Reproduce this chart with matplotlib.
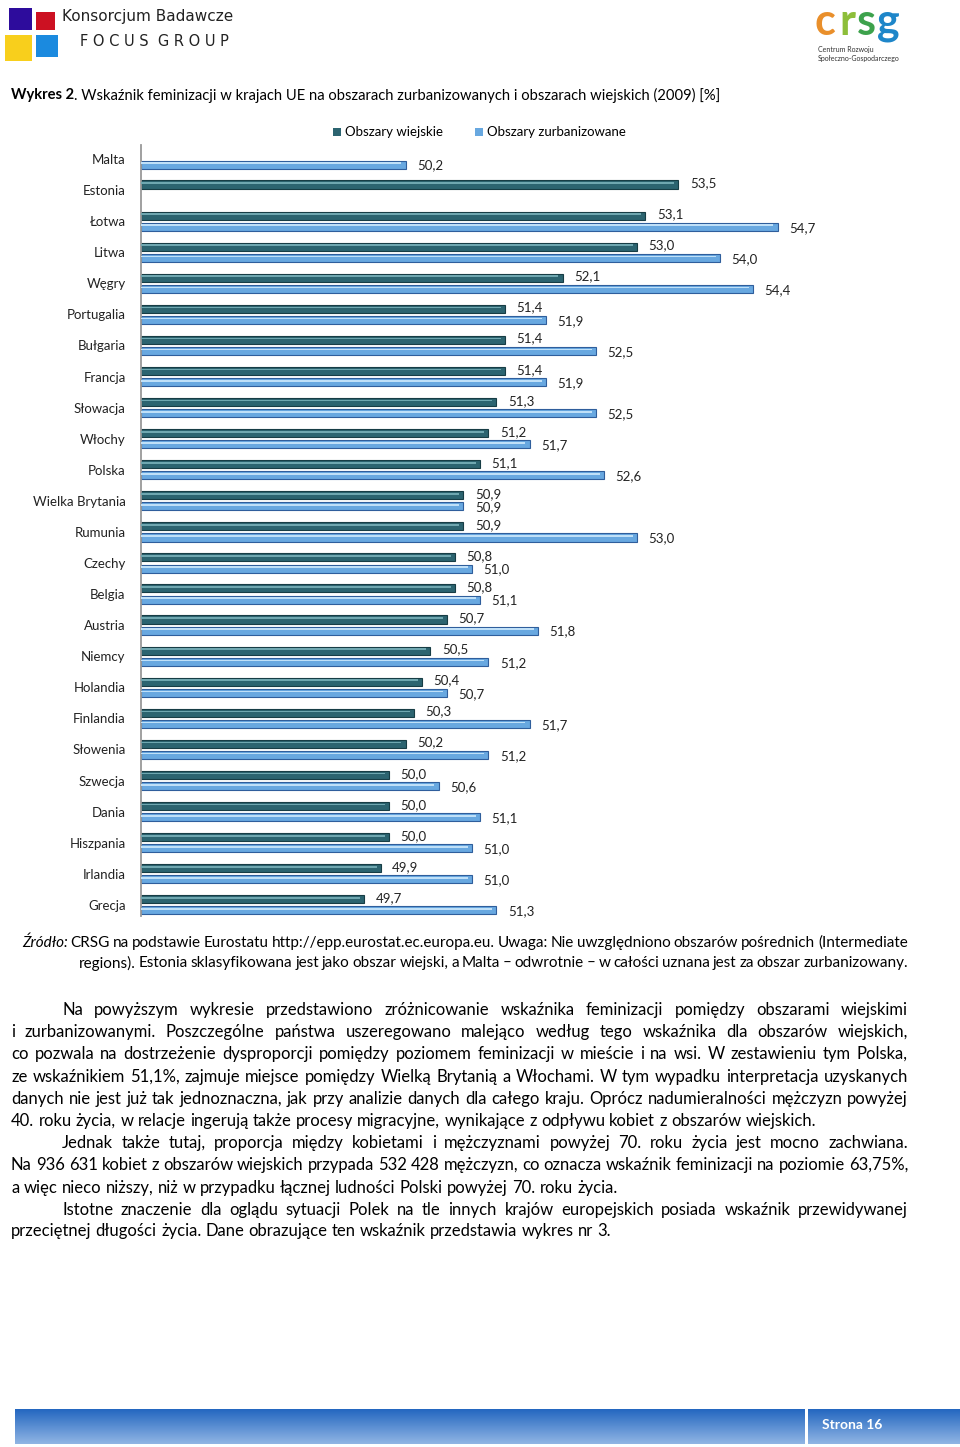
import numpy as np
import matplotlib.pyplot as plt
from matplotlib.patches import Rectangle
from matplotlib.colors import LinearSegmentedColormap

FONT = "Lato"
plt.rcParams["font.family"] = [FONT, "DejaVu Sans"]

# data
countries = ["Malta", "Estonia", "Łotwa", "Litwa", "Węgry", "Portugalia", "Bułgaria",
             "Francja", "Słowacja", "Włochy", "Polska", "Wielka Brytania", "Rumunia",
             "Czechy", "Belgia", "Austria", "Niemcy", "Holandia", "Finlandia",
             "Słowenia", "Szwecja", "Dania", "Hiszpania", "Irlandia", "Grecja"]
rural = [np.nan, 53.5, 53.1, 53.0, 52.1, 51.4, 51.4, 51.4, 51.3, 51.2, 51.1, 50.9, 50.9,
         50.8, 50.8, 50.7, 50.5, 50.4, 50.3, 50.2, 50.0, 50.0, 50.0, 49.9, 49.7]
urban = [50.2, np.nan, 54.7, 54.0, 54.4, 51.9, 52.5, 51.9, 52.5, 51.7, 52.6, 50.9, 53.0,
         51.0, 51.1, 51.8, 51.2, 50.7, 51.7, 51.2, 50.6, 51.1, 51.0, 51.0, 51.3]
series_names = ["Obszary wiejskie", "Obszary zurbanizowane"]

title_bold = "Wykres 2"
title_rest = ". Wskaźnik feminizacji w krajach UE na obszarach zurbanizowanych i obszarach wiejskich (2009) [%]"

source_lines = [
    "CRSG na podstawie Eurostatu http://epp.eurostat.ec.europa.eu. Uwaga: Nie uwzględniono obszarów pośrednich (Intermediate",
    "regions). Estonia sklasyfikowana jest jako obszar wiejski, a Malta – odwrotnie – w całości uznana jest za obszar zurbanizowany.",
]

# (text, indented, justified)
body_lines = [
    ("Na powyższym wykresie przedstawiono zróżnicowanie wskaźnika feminizacji pomiędzy obszarami wiejskimi", True, True),
    ("i zurbanizowanymi. Poszczególne państwa uszeregowano malejąco według tego wskaźnika dla obszarów wiejskich,", False, True),
    ("co pozwala na dostrzeżenie dysproporcji pomiędzy poziomem feminizacji w mieście i na wsi. W zestawieniu tym Polska,", False, True),
    ("ze wskaźnikiem 51,1%, zajmuje miejsce pomiędzy Wielką Brytanią a Włochami. W tym wypadku interpretacja uzyskanych", False, True),
    ("danych nie jest już tak jednoznaczna, jak przy analizie danych dla całego kraju. Oprócz nadumieralności mężczyzn powyżej", False, True),
    ("40. roku życia, w relacje ingerują także procesy migracyjne, wynikające z odpływu kobiet z obszarów wiejskich.", False, False),
    ("Jednak także tutaj, proporcja między kobietami i mężczyznami powyżej 70. roku życia jest mocno zachwiana.", True, True),
    ("Na 936 631 kobiet z obszarów wiejskich przypada 532 428 mężczyzn, co oznacza wskaźnik feminizacji na poziomie 63,75%,", False, True),
    ("a więc nieco niższy, niż w przypadku łącznej ludności Polski powyżej 70. roku życia.", False, False),
    ("Istotne znaczenie dla oglądu sytuacji Polek na tle innych krajów europejskich posiada wskaźnik przewidywanej", True, True),
    ("przeciętnej długości życia. Dane obrazujące ten wskaźnik przedstawia wykres nr 3.", False, False),
]

W, H = 960, 1447
fig = plt.figure(figsize=(W / 100, H / 100), dpi=100)
renderer = fig.canvas.get_renderer()


def fx(x):
    return x / W


def fy(y):
    return 1 - y / H


def rect(x0, y0, x1, y1, color):
    fig.add_artist(Rectangle((fx(x0), fy(y1)), fx(x1 - x0), (y1 - y0) / H,
                             transform=fig.transFigure, color=color, lw=0))


def width_px(t):
    return t.get_window_extent(renderer).width


def line(words, x0, x1, y, size, justify=True):
    # words: list of (word, style)
    texts = [fig.text(fx(x0), fy(y), w, fontsize=size, style=s, va="center")
             for w, s in words]
    widths = [width_px(t) for t in texts]
    a = fig.text(0, 0, "a a", fontsize=size)
    b = fig.text(0, 0, "aa", fontsize=size)
    space = width_px(a) - width_px(b)
    a.remove()
    b.remove()
    if justify and len(words) > 1:
        gap = (x1 - x0 - sum(widths)) / (len(words) - 1)
    else:
        gap = space
    x = x0
    for t, w in zip(texts, widths):
        t.set_x(fx(x))
        x += w + gap


# ---- header logos
rect(9, 8, 32, 30, "#2D0C9C")
rect(36, 12, 55, 30, "#CC1122")
rect(5, 35, 32, 61, "#F8CF1C")
rect(36, 35, 58, 57, "#1B8ADF")
fig.text(fx(62), fy(17), "Konsorcjum Badawcze", fontsize=11, va="center",
         family="DejaVu Sans", color="#222222")
fig.text(fx(80), fy(42), "F O C U S  G R O U P", fontsize=10.5, va="center",
         family="DejaVu Sans", color="#222222")

for ch, x, c in [("c", 815, "#E98F2B"), ("r", 839, "#8DBE3A"), ("s", 857, "#3DA24C"), ("g", 877, "#1E86C9")]:
    fig.text(fx(x), fy(35), ch, fontsize=31, fontweight="bold", color=c, va="baseline")
fig.text(fx(818), fy(49.5), "Centrum Rozwoju", fontsize=5, va="center", color="#333333")
fig.text(fx(818), fy(59), "Społeczno-Gospodarczego", fontsize=5, va="center", color="#333333")

# ---- title
tb = fig.text(fx(11), fy(95), title_bold, fontsize=10.6, fontweight="bold", va="center")
fig.text(fx(11) + fx(width_px(tb)), fy(95), title_rest, fontsize=10.6, va="center")

# ---- chart
xmin, xmax = 47, 56
ax = fig.add_axes([fx(141), fy(916), fx(885) - fx(141), (916 - 145) / H])
pos = np.arange(len(countries))
styles = [
    (np.array(rural), -0.18, "#2C6470", "#173D45", "#6FA7B0"),
    (np.array(urban), 0.18, "#68A8E0", "#2F5E9C", "#BFE0F8"),
]
for vals, off, base, edge, hl in styles:
    m = ~np.isnan(vals)
    y = pos[m] + off
    v = vals[m]
    ax.barh(y + 0.1, v - xmin, left=xmin, height=0.1, color="#d5d5d5", lw=0, zorder=1)
    ax.barh(y, v - xmin, left=xmin, height=0.26, color=base, edgecolor=edge, lw=0.8, zorder=2)
    ax.barh(y - 0.045, v - xmin - 0.05, left=xmin, height=0.055, color=hl, lw=0, zorder=3)
    for yy, vv in zip(y, v):
        ax.text(vv + 0.14, yy + (0.03 if off > 0 else -0.04), f"{vv:.1f}".replace(".", ","),
                fontsize=9.5, va="center", ha="left", color="#222222")

ax.set_xlim(xmin, xmax)
ax.set_ylim(24.36, -0.45)
ax.set_yticks(pos)
ax.set_yticklabels(countries, fontsize=9.5, color="#222222")
ax.set_xticks([])
ax.tick_params(left=False, length=0, pad=11)
for s in ["top", "right", "bottom"]:
    ax.spines[s].set_visible(False)
ax.spines["left"].set_color("#999999")
ax.spines["left"].set_linewidth(1.3)

# legend
rect(333, 128, 341, 136, "#2C6470")
fig.text(fx(345), fy(132), series_names[0], fontsize=9.5, va="center")
rect(475, 128, 483, 136, "#68A8E0")
fig.text(fx(487), fy(132), series_names[1], fontsize=9.5, va="center")

# ---- source note
src_size = 11.0
words = [("Źródło:", "italic")] + [(w, "normal") for w in source_lines[0].split()]
line(words, 22, 908, 943, src_size)
line([(w, "normal") for w in source_lines[1].split()], 79, 908, 963, src_size)

# ---- body text
probe = fig.text(0, 0, body_lines[5][0], fontsize=12)
body_size = 12 * 804 / width_px(probe)
probe.remove()
ys = [1010, 1032, 1054, 1077, 1099, 1121, 1143, 1165, 1188, 1210, 1231]
for (txt, indent, just), y in zip(body_lines, ys):
    x0 = 62 if indent else 11
    line([(w, "normal") for w in txt.split()], x0, 908, y, body_size, justify=just)

# ---- footer
cmap = LinearSegmentedColormap.from_list("foot", ["#2467C0", "#90B5E4"])
grad = np.linspace(0, 1, 50).reshape(-1, 1)
for x0, x1 in [(15, 805), (808, 960)]:
    fa = fig.add_axes([fx(x0), fy(1444), fx(x1 - x0), 35 / H])
    fa.imshow(grad, aspect="auto", cmap=cmap)
    fa.axis("off")
fig.text(fx(822), fy(1425), "Strona 16", fontsize=10, fontweight="bold", color="white", va="center")

fig.savefig("out.png", dpi=100)
